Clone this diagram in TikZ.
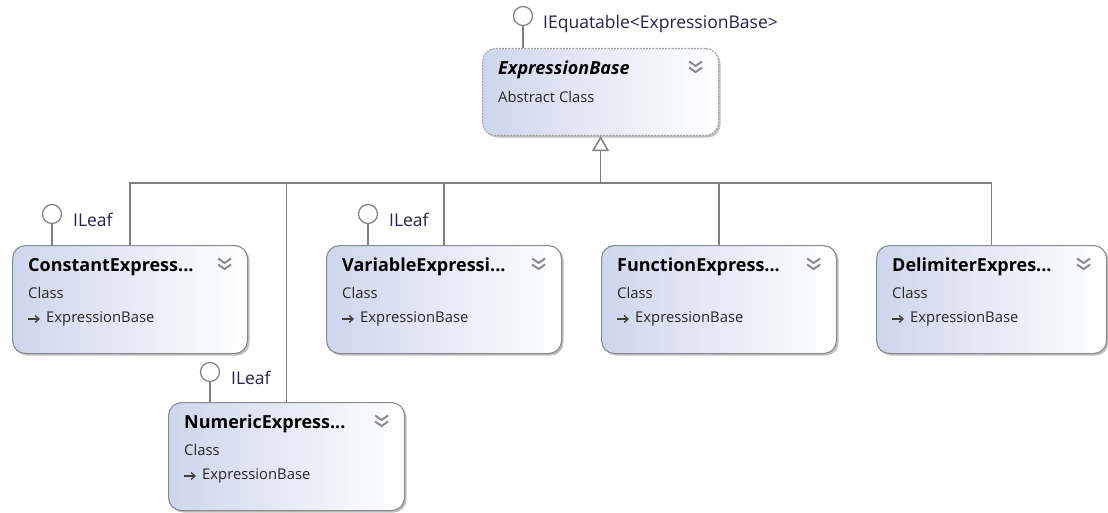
\documentclass[tikz,border=0pt]{standalone}
\usepackage{fontspec}
\setmainfont{Open Sans}
\usetikzlibrary{arrows.meta,shadows,calc}
\definecolor{boxline}{HTML}{8A8A8A}
\definecolor{conline}{HTML}{7F7F7F}
\definecolor{boxblue}{HTML}{CDD6EC}
\definecolor{lblcol}{HTML}{2A1E4A}
\definecolor{chevcol}{HTML}{8C8C8C}
\tikzset{
  cls/.style={draw=boxline, line width=1.1pt, rounded corners=13pt, anchor=north west,
    left color=boxblue, right color=white, inner sep=0pt,
    drop shadow={shadow xshift=2pt, shadow yshift=-2pt, opacity=0.25, fill=black}},
  abscls/.style={cls, dash pattern=on 2pt off 1.2pt, draw=boxline!80},
  ttl/.style={anchor=west, inner sep=0pt, font=\fontsize{18}{20}\selectfont\bfseries, text=black},
  sub/.style={anchor=west, inner sep=0pt, font=\fontsize{14.8}{17}\selectfont, text=black!85},
  lbl/.style={anchor=west, inner sep=0pt, font=\fontsize{17.5}{20}\selectfont, text=lblcol},
  conn/.style={draw=conline, line width=1.5pt},
  lolly/.style={circle, draw=conline, fill=white, line width=1.2pt, minimum size=19pt, inner sep=0pt},
  chev/.style={draw=chevcol, line width=2pt},
}
\newcommand\umlchev[1]{%
  \draw[chev] ($(#1.north east)+(-30,13.5)$) -- ++(6.5,4.5) -- ++(6.5,-4.5);
  \draw[chev] ($(#1.north east)+(-30,19.5)$) -- ++(6.5,4.5) -- ++(6.5,-4.5);}
\newcommand\umlcls[5]{% name, x, y, width, title
  \node[cls, minimum width=#4, minimum height=108] (#1) at (#2,#3) {};
  \node[ttl] (#1-t) at ($(#1.north west)+(16,22)$) {#5};
  \node[sub] (#1-k) at ($(#1.north west)+(16,48)$) {Class};
  \node[sub] (#1-b) at ($(#1.north west)+(34,74)$) {ExpressionBase};
  \draw[black!75, line width=1.3pt, -{Straight Barb[length=4pt,width=7pt,line width=1.3pt]}] ($(#1-b.west)+(-18,0)$) -- ($(#1-b.west)+(-6,0)$);
  \umlchev{#1}}
\begin{document}
\begin{tikzpicture}[x=1pt,y=-1pt]
\useasboundingbox (0,0) rectangle (1108,513);
% base class
\node[abscls, minimum width=236, minimum height=87] (base) at (482,48) {};
\node[ttl, font=\fontsize{18}{20}\selectfont\bfseries\itshape] (base-t) at ($(base.north west)+(16,22)$) {ExpressionBase};
\node[sub] (base-k) at ($(base.north west)+(16,49)$) {Abstract Class};
\umlchev{base}
% children
\umlcls{cons}{12}{245}{235}{ConstantExpress...}
\umlcls{var}{326}{245}{235}{VariableExpressi...}
\umlcls{func}{601}{245}{235}{FunctionExpress...}
\umlcls{delim}{876}{245}{230}{DelimiterExpres...}
\umlcls{num}{168}{402}{236}{NumericExpress...}
% inheritance bus
\coordinate (bus) at (600,183);
\draw[conn] (cons.north) -- (cons.north |- bus) -- (delim.north |- bus) -- (delim.north);
\draw[conn] (var.north) -- (var.north |- bus);
\draw[conn] (func.north) -- (func.north |- bus);
\draw[conn] (num.north) -- (num.north |- bus);
\draw[conn, -{Triangle[open, length=15pt, width=17pt, line width=1.5pt]}] (base.south |- bus) -- (base.south);
% lollipops
\node[lolly] (ieq) at (523,16) {};
\draw[conn] (ieq.south) -- (ieq.south |- base.north);
\node[lbl] (ieq-l) at (543,24) {IEquatable<ExpressionBase>};
\node[lolly] (lc) at (52,214) {};
\draw[conn] (lc.south) -- (lc.south |- cons.north);
\node[lbl] (lc-l) at (73,220) {ILeaf};
\node[lolly] (lv) at (368,214) {};
\draw[conn] (lv.south) -- (lv.south |- var.north);
\node[lbl] (lv-l) at (389,220) {ILeaf};
\node[lolly] (ln) at (210,372) {};
\draw[conn] (ln.south) -- (ln.south |- num.north);
\node[lbl] (ln-l) at (231,378) {ILeaf};
\end{tikzpicture}
\end{document}
